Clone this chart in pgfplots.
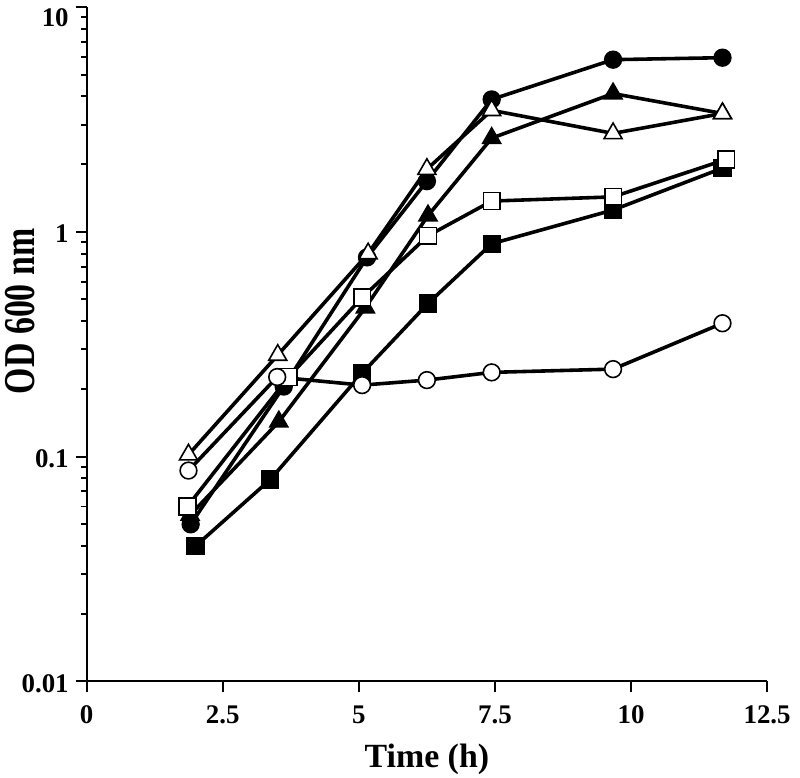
\documentclass[border=0pt]{standalone}
\usepackage{fontspec}
\setmainfont{Liberation Serif}
\usepackage{graphicx}
\usepackage{pgfplots}
\pgfplotsset{compat=1.18}
\begin{document}
\begin{tikzpicture}
\begin{axis}[
  name=ax,
  scale only axis, width=341.5pt, height=338.5pt,
  ymode=log, xmin=0, xmax=12.5, ymin=0.01, ymax=10,
  axis x line*=bottom, axis y line*=left,
  axis line style={line width=1pt, black},
  xtick={0,2.5,5,7.5,10,12.5}, xticklabels={0,2.5,5,7.5,10,12.5},
  ytick={0.01,0.1,1,10}, yticklabels={0.01,0.1,1,\raisebox{-9pt}[0pt][0pt]{10}},
  minor ytick={}, minor xtick={},
  tick align=outside, major tick length=5.5pt,
  tick style={line width=1pt, black},
  tick label style={font=\fontsize{13.5}{16}\selectfont\bfseries},
  xticklabel style={yshift=-3pt},
  yticklabel style={yshift=-1pt},
  every axis x label/.style={at={(axis description cs:0.5,-0.0925)}, anchor=north, inner sep=0pt,
     font=\fontsize{17}{20}\selectfont\bfseries},
  every axis y label/.style={at={(axis description cs:-0.0761,0.5487)}, rotate=90, anchor=south, inner sep=0pt,
     font=\fontsize{17}{20}\selectfont\bfseries},
  xlabel={Time (h)}, ylabel={\scalebox{1}[1.3]{OD 600 nm}},
  clip=false,
  every axis plot/.append style={line width=1.8pt, black},
]
% filled square
\addplot[mark=square*, mark size=4.2pt, mark options={fill=black, line width=0.8pt}] coordinates {
 (2.0,0.040) (3.37,0.079) (5.06,0.235) (6.27,0.48) (7.44,0.885) (9.67,1.25) (11.68,1.92)};
% filled circle
\addplot[mark=*, mark size=4.2pt, mark options={fill=black, line width=0.8pt}] coordinates {
 (1.91,0.050) (3.62,0.205) (5.15,0.77) (6.25,1.68) (7.44,3.88) (9.67,5.83) (11.68,5.95)};
% filled triangle
\addplot[mark=triangle*, mark size=5.2pt, mark options={fill=black, line width=0.8pt}] coordinates {
 (1.9,0.055) (3.53,0.143) (5.12,0.46) (6.27,1.18) (7.44,2.61) (9.67,4.12) (11.68,3.36)};
% open square
\addplot[mark=square*, mark size=4.2pt, mark options={fill=white, line width=0.8pt}] coordinates {
 (1.85,0.060) (3.71,0.226) (5.06,0.51) (6.27,0.96) (7.44,1.37) (9.67,1.43) (11.75,2.10)};
% open triangle
\addplot[mark=triangle*, mark size=5.2pt, mark options={fill=white, line width=0.8pt}] coordinates {
 (1.87,0.102) (3.51,0.283) (5.17,0.80) (6.25,1.90) (7.44,3.47) (9.67,2.74) (11.68,3.36)};
% open circle
\addplot[mark=*, mark size=4.2pt, mark options={fill=white, line width=0.8pt}] coordinates {
 (1.87,0.0867) (3.50,0.226) (5.06,0.208) (6.25,0.219) (7.44,0.237) (9.67,0.245) (11.68,0.392)};
\end{axis}
\pgfresetboundingbox
\path[use as bounding box] ([xshift=-43.5pt,yshift=-48pt]ax.south west) rectangle ([xshift=16.5pt,yshift=3.5pt]ax.north east);
\end{tikzpicture}
\end{document}
